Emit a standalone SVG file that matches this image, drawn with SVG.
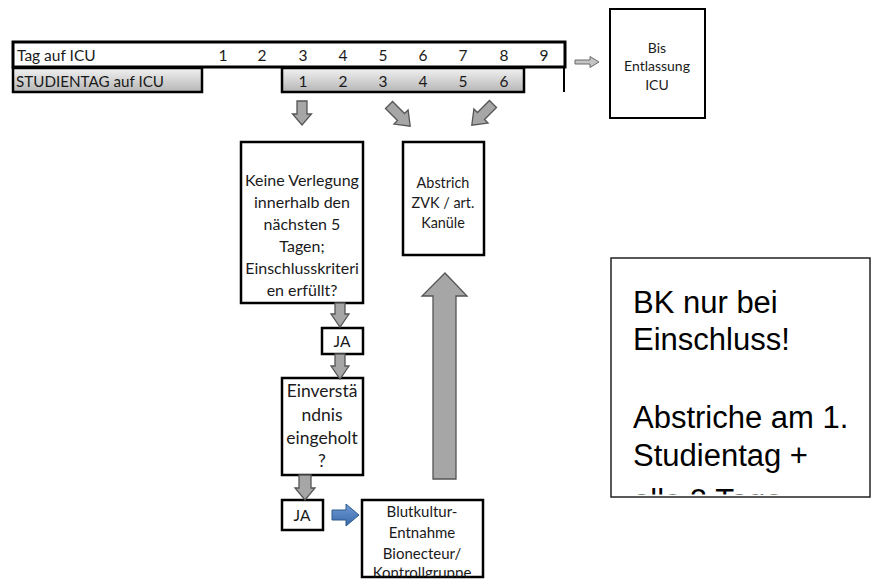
<svg xmlns="http://www.w3.org/2000/svg" width="872" height="579" viewBox="0 0 872 579">
<defs>
<linearGradient id="gStudy" x1="0" y1="0" x2="0" y2="1">
<stop offset="0" stop-color="#f2f2f2"/>
<stop offset="1" stop-color="#b5b5b5"/>
</linearGradient>
<linearGradient id="gBlue" x1="0" y1="0" x2="0" y2="1">
<stop offset="0" stop-color="#6f9bd6"/>
<stop offset="1" stop-color="#3a68a8"/>
</linearGradient>
<clipPath id="clipBlut"><rect x="362" y="500" width="121" height="77.5"/></clipPath>
<clipPath id="clipNote"><rect x="611" y="258" width="260" height="236.5"/></clipPath>
<path id="arrDiag" d="M-5,0 H5 V17 H10 L0,30 L-10,17 H-5 Z"/>
</defs>
<style>
.t{font-family:Lato,"Liberation Sans",sans-serif;fill:#1a1a1a}
.c{text-anchor:middle}
.box{fill:#fff;stroke:#000;stroke-width:2.5}
.arr{fill:#a6a6a6;stroke:#555;stroke-width:1.3;stroke-linejoin:miter}
.note{font-family:"Liberation Sans",Arial,sans-serif;font-size:31px;fill:#000}
</style>
<rect width="872" height="579" fill="#fff"/>

<g id="tag-auf-icu">
<rect x="13" y="42" width="552" height="25" fill="#fff" stroke="#000" stroke-width="3"/>
<line x1="564" y1="67" x2="564" y2="92" stroke="#000" stroke-width="2"/>
<text class="t" x="17" y="61" font-size="15.5">Tag auf ICU</text>
<g class="t c" font-size="15.5">
<text x="223" y="61">1</text><text x="262" y="61">2</text><text x="303" y="61">3</text>
<text x="343" y="61">4</text><text x="383" y="61">5</text><text x="423" y="61">6</text>
<text x="463" y="61">7</text><text x="504" y="61">8</text><text x="544" y="61">9</text>
</g>
</g>

<g id="studientag">
<rect x="13" y="68" width="189" height="24" fill="url(#gStudy)" stroke="#000" stroke-width="2.5"/>
<text class="t" x="16" y="87" font-size="15.2">STUDIENTAG auf ICU</text>
<rect x="282" y="68" width="242" height="24" fill="url(#gStudy)" stroke="#000" stroke-width="2.5"/>
<g class="t c" font-size="15.5">
<text x="303" y="87">1</text><text x="343" y="87">2</text><text x="383" y="87">3</text>
<text x="423" y="87">4</text><text x="463" y="87">5</text><text x="504" y="87">6</text>
</g>
</g>

<g id="bis-entlassung">
<rect x="610" y="9" width="95" height="109" fill="#fff" stroke="#000" stroke-width="2"/>
<g class="t c" font-size="14">
<text x="657" y="53">Bis</text>
<text x="657" y="71">Entlassung</text>
<text x="657" y="90">ICU</text>
</g>
</g>

<g id="keine-verlegung">
<rect class="box" x="241" y="142" width="122" height="161"/>
<g class="t c" font-size="16">
<text x="302" y="186">Keine Verlegung</text>
<text x="302" y="208">innerhalb den</text>
<text x="302" y="230">nächsten 5</text>
<text x="302" y="252">Tagen;</text>
<text x="302" y="274">Einschlusskriteri</text>
<text x="302" y="296">en erfüllt?</text>
</g>
</g>

<g id="abstrich">
<rect class="box" x="403" y="142" width="81" height="113"/>
<g class="t c" font-size="14.4">
<text x="443" y="188">Abstrich</text>
<text x="443" y="208">ZVK / art.</text>
<text x="443" y="228">Kanüle</text>
</g>
</g>

<g id="ja1">
<rect class="box" x="322" y="328" width="41" height="26"/>
<text class="t c" x="342" y="347" font-size="15.5">JA</text>
</g>

<g id="einverstaendnis">
<rect class="box" x="282" y="378" width="81" height="97"/>
<g class="t c" font-size="17.5">
<text x="322" y="397">Einverstä</text>
<text x="322" y="421">ndnis</text>
<text x="322" y="444">eingeholt</text>
<text x="322" y="467">?</text>
</g>
</g>

<g id="ja2">
<rect class="box" x="282" y="500" width="41" height="30"/>
<text class="t c" x="302" y="521" font-size="15.5">JA</text>
</g>

<g id="blutkultur">
<rect class="box" x="362" y="500" width="121" height="77"/>
<g class="t c" font-size="15" clip-path="url(#clipBlut)">
<text x="422" y="517">Blutkultur-</text>
<text x="422" y="538">Entnahme</text>
<text x="422" y="559">Bionecteur/</text>
<text x="422" y="578">Kontrollgruppe</text>
</g>
</g>

<g id="note">
<rect x="611" y="258" width="259" height="239" fill="#fff" stroke="#222" stroke-width="1.5"/>
<g clip-path="url(#clipNote)">
<text class="note" x="633" y="313">BK nur bei</text>
<text class="note" x="633" y="350">Einschluss!</text>
<text class="note" x="633" y="428">Abstriche am 1.</text>
<text class="note" x="633" y="466">Studientag +</text>
<text class="note" x="633" y="511">alle 2 Tage</text>
</g>
</g>

<g id="connectors">
<path d="M575,60 H590 V56.5 L599,62 L590,67.5 V64 H575 Z" fill="#c4c4c4" stroke="#6a6a6a" stroke-width="1"/>
<path class="arr" d="M297,101 H307 V114 H311.5 L302,125 L292.5,114 H297 Z"/>
<use href="#arrDiag" class="arr" transform="translate(389,105) rotate(-45)"/>
<use href="#arrDiag" class="arr" transform="translate(493,104) rotate(45)"/>
<path class="arr" d="M335,303 H345 V314 H349 L340,327 L331,314 H335 Z"/>
<path class="arr" d="M335,354 H345 V366 H349 L340,379 L331,366 H335 Z"/>
<path class="arr" d="M299,475 H311 V488 H315 L305,500 L295,488 H299 Z"/>
<path class="arr" d="M445,273 L467,296 H456 V479 H433 V296 H422 Z"/>
<path d="M332,510 H346 V504 L359,515 L346,526 V520 H332 Z" fill="url(#gBlue)" stroke="#2c5a8c" stroke-width="1"/>
</g>
</svg>
